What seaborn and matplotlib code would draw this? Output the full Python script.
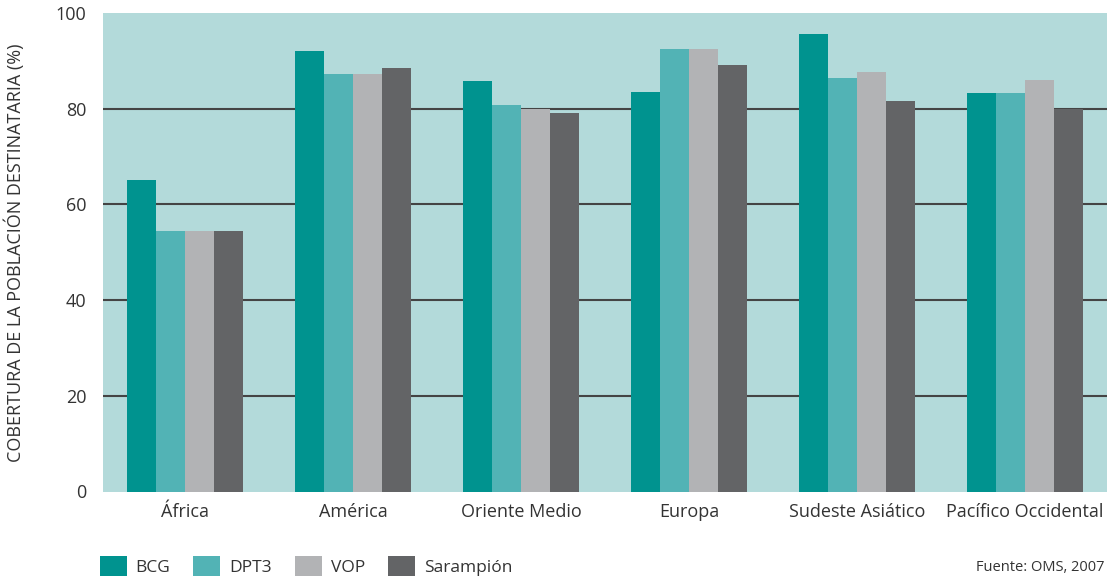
import matplotlib
matplotlib.use("Agg")
import matplotlib.pyplot as plt
import seaborn as sns
import pandas as pd
from matplotlib.patches import Patch

regions = ["África", "América", "Oriente Medio", "Europa", "Sudeste Asiático", "Pacífico Occidental"]
vaccines = ["BCG", "DPT3", "VOP", "Sarampión"]
bcg = [65.2, 92.0, 85.7, 83.4, 95.7, 83.2]
dpt3 = [54.5, 87.2, 80.7, 92.4, 86.4, 83.2]
vop = [54.5, 87.2, 79.9, 92.4, 87.6, 86.1]
sarampion = [54.5, 88.6, 79.1, 89.1, 81.6, 80.0]
yticks = [0, 20, 40, 60, 80, 100]
colors = ["#00938F", "#52B3B5", "#B2B3B5", "#636466"]

rows = []
for name, vals in zip(vaccines, [bcg, dpt3, vop, sarampion]):
    for r, v in zip(regions, vals):
        rows.append({"region": r, "vacuna": name, "valor": v})
df = pd.DataFrame(rows)

sns.set_theme(style="white")
plt.rcParams['font.family'] = ['Open Sans', 'DejaVu Sans']

fig = plt.figure(figsize=(11.07, 5.76), dpi=100)
ax = fig.add_axes([103/1107, 1 - 491.5/576, (1107-103)/1107, (491.5-13)/576])
ax.set_facecolor("#B3DADA")

sns.barplot(data=df, x="region", y="valor", hue="vacuna", order=regions,
            hue_order=vaccines, palette=colors, width=0.69, saturation=1,
            edgecolor="none", linewidth=0, ax=ax, legend=False, zorder=3)

ax.set_xlim(-0.49, 5.49)
ax.set_ylim(0, 99.8)
ax.set_yticks(yticks)
ax.set_yticklabels([str(t) for t in yticks], fontsize=13, color="#333333")
ax.tick_params(axis="both", length=0)
ax.tick_params(axis="x", labelsize=13, labelcolor="#333333", pad=8)
ax.tick_params(axis="y", pad=12)
for t in [20, 40, 60, 80]:
    ax.axhline(t, color="#444444", linewidth=1.5, zorder=1)
for s in ax.spines.values():
    s.set_visible(False)
ax.set_xlabel("")
ax.set_ylabel("COBERTURA DE LA POBLACIÓN DESTINATARIA (%)", fontsize=13,
              color="#333333", labelpad=22)

handles = [Patch(facecolor=c, edgecolor="none") for c in colors]
fig.legend(handles, vaccines, loc="lower left", bbox_to_anchor=(84/1107, -0.028),
           ncol=4, frameon=False, fontsize=12.5, handlelength=1.55, handleheight=1.45,
           handletextpad=0.5, columnspacing=1.35, labelcolor="#333333")

fig.text(1104/1107, 1/576, "Fuente: OMS, 2007", fontsize=10.5, color="#333333",
         ha="right", va="bottom")

fig.savefig("out.png", dpi=100)
